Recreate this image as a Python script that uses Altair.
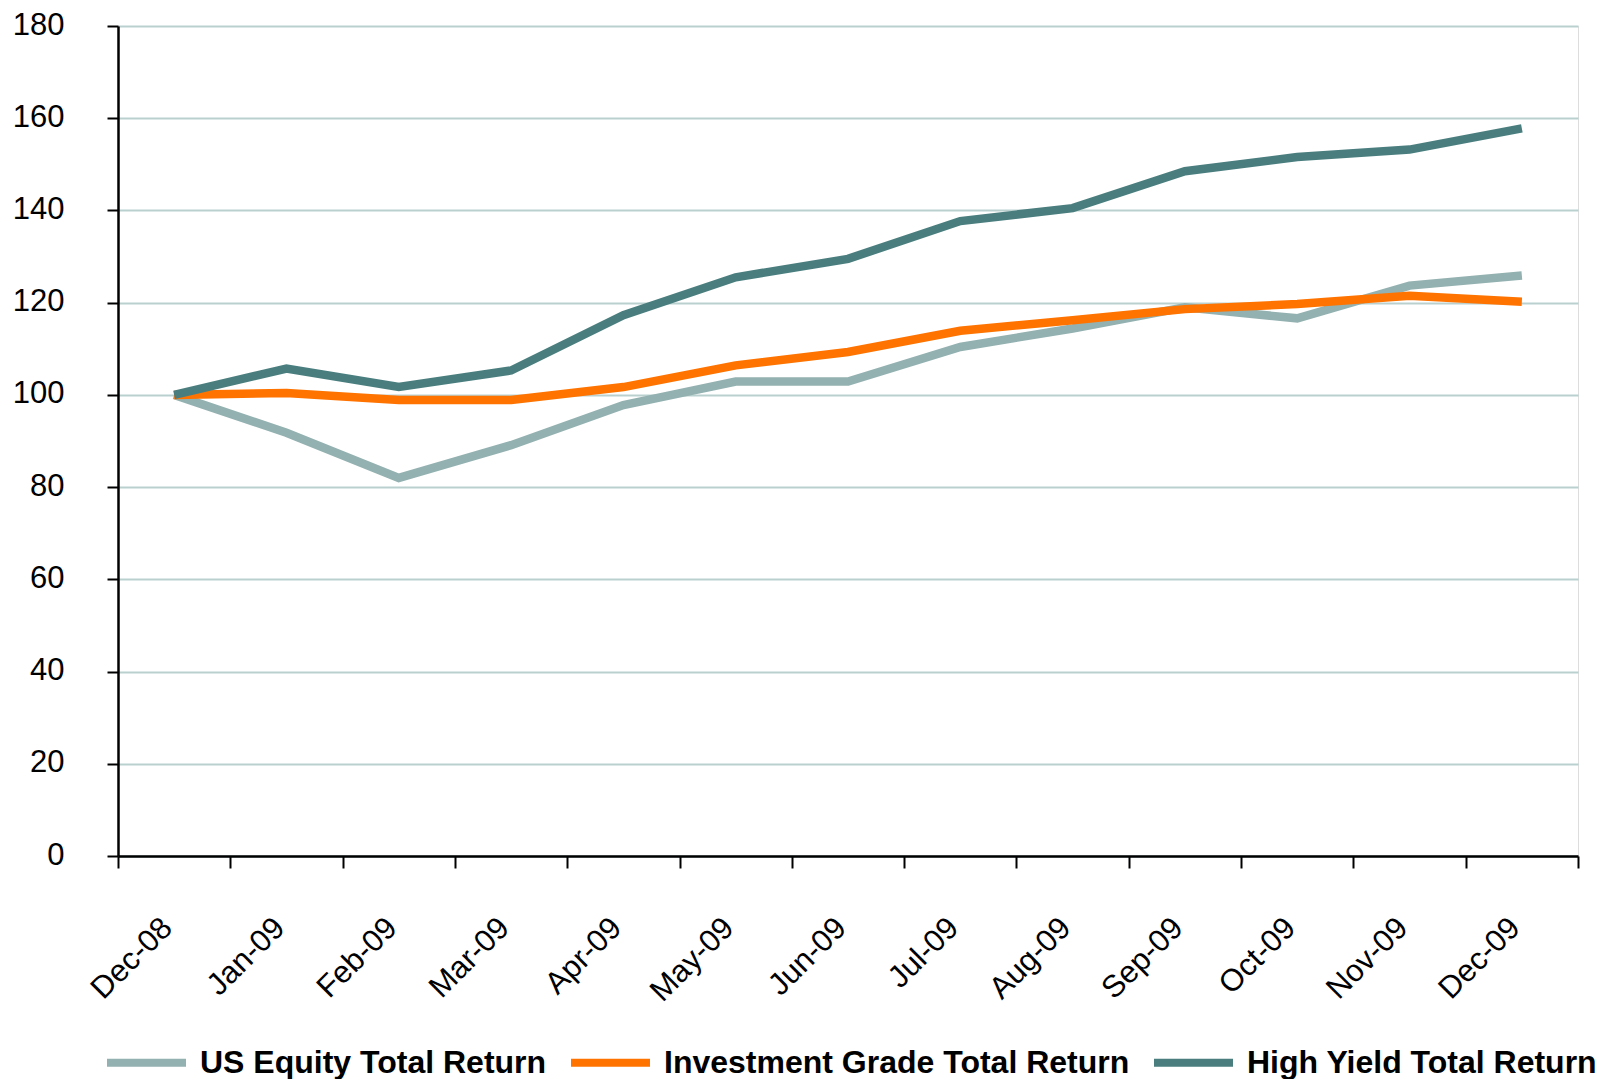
import altair as alt
import pandas as pd

months = ["Dec-08", "Jan-09", "Feb-09", "Mar-09", "Apr-09", "May-09", "Jun-09",
          "Jul-09", "Aug-09", "Sep-09", "Oct-09", "Nov-09", "Dec-09"]
us_equity = [100.0, 91.8, 82.0, 89.1, 97.8, 102.9, 102.9, 110.4, 114.4, 119.0, 116.6, 123.7, 125.9]
inv_grade = [100.0, 100.4, 98.9, 98.9, 101.7, 106.4, 109.3, 113.9, 116.2, 118.6, 119.7, 121.5, 120.2]
high_yield = [100.0, 105.7, 101.7, 105.3, 117.3, 125.5, 129.5, 137.7, 140.5, 148.5, 151.6, 153.2, 157.8]

series_names = ["US Equity Total Return", "Investment Grade Total Return", "High Yield Total Return"]
series_colors = ["#93B1B0", "#FF7300", "#4A7E7E"]

rows = []
for name, vals in zip(series_names, [us_equity, inv_grade, high_yield]):
    for i, (m, v) in enumerate(zip(months, vals)):
        rows.append({"month": m, "value": v, "series": name, "order": i})
df = pd.DataFrame(rows)

FONT = "Liberation Sans"

chart = alt.Chart(df).mark_line(strokeWidth=8.5, strokeJoin="miter", strokeCap="butt").encode(
    x=alt.X("month:N", sort=months, bandPosition=0.5,
            scale=alt.Scale(type="band", paddingInner=0, paddingOuter=0),
            axis=alt.Axis(title=None, tickBand="extent", tickSize=12, tickWidth=2,
                          tickColor="#000000", domainColor="#000000", domainWidth=2.5,
                          labelAngle=315, labelAlign="right", labelBaseline="middle",
                          labelPadding=55, labelOffset=-7, labelFontSize=31, labelFont=FONT,
                          labelColor="#000000", labelOverlap=False, grid=False)),
    y=alt.Y("value:Q", scale=alt.Scale(domain=[0, 180], nice=False, zero=True),
            axis=alt.Axis(title=None, values=list(range(0, 181, 20)), tickSize=11,
                          tickWidth=2, tickColor="#000000", domainColor="#000000",
                          domainWidth=2.5, labelFontSize=31, labelFont=FONT,
                          labelColor="#000000", labelPadding=43, labelOffset=-1, grid=True,
                          gridColor="#B9D0CF", gridWidth=2)),
    color=alt.Color("series:N", sort=series_names,
                    scale=alt.Scale(domain=series_names, range=series_colors),
                    legend=alt.Legend(title=None, orient="none", legendX=-15, legendY=993,
                                      direction="horizontal", columns=3, columnPadding=8,
                                      symbolType="stroke", symbolSize=6241,
                                      symbolStrokeWidth=8, labelOffset=10,
                                      labelFontSize=32, labelFont=FONT,
                                      labelFontWeight="bold", labelColor="#000000",
                                      labelLimit=1000, padding=0)),
    order=alt.Order("order:Q"),
).properties(
    width=1460, height=830,
    autosize=alt.AutoSizeParams(type="none"),
    padding={"left": 110, "top": 18, "right": 18, "bottom": 223},
).configure_view(stroke=None).configure(background="white")

chart.save("out.html", embed_options={"renderer": "svg", "actions": False})
